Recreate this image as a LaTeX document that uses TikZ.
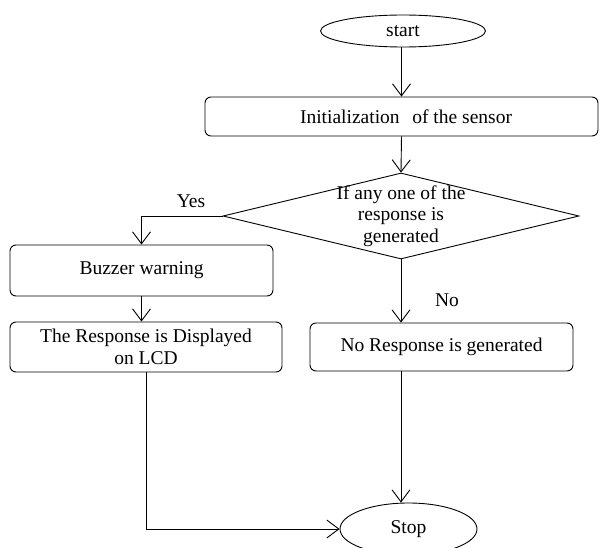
\documentclass[tikz,border=0pt]{standalone}
\usepackage{fontspec}
\setmainfont{Liberation Serif}
\usetikzlibrary{shapes.geometric,arrows.meta,calc}
\newcommand{\myfnt}{\fontsize{19.5}{21.5}\selectfont}
\begin{document}
\begin{tikzpicture}[x=1pt,y=-1pt,
  every node/.style={font=\myfnt, inner sep=0pt},
  box/.style={draw, rounded corners=6pt, line width=0.9pt, align=center},
  term/.style={draw, ellipse, line width=0.9pt},
  conn/.style={line width=0.9pt},
  arr/.style={conn, -{Straight Barb[length=12pt,width=18pt,line width=0.9pt]}}]
\clip (0,0) rectangle (606,548);
\fill[white] (0,0) rectangle (606,548);
\node[term, minimum width=165pt, minimum height=32pt] (start) at (403,31) {start};
\node[box, minimum width=393pt, minimum height=39pt] (init) at (401.5,116.5) {\hspace{9pt}Initialization\hspace{0.65em}of the sensor};
\node[draw, diamond, line width=0.9pt, minimum width=356pt, minimum height=86pt] (dec) at (401,216) {};
\node[align=center] (dectext) at (401,216) {If any one of the\\response is\\generated};
\node[box, minimum width=263pt, minimum height=51pt] (buzz) at (141.5,270.5) {Buzzer warning};
\node[box, minimum width=272pt, minimum height=50pt] (disp) at (146,347) {The Response is Displayed\\on LCD};
\node[box, minimum width=263pt, minimum height=48pt] (nores) at (441.5,347) {No Response is generated};
\node[term, minimum width=137pt, minimum height=52pt] (stop) at (408.5,529) {Stop};
\node (yes) at (191,201) {Yes};
\node (no) at (447,300) {No};
\draw[arr] (start.south -| init.north) -- (init.north);
\draw[arr] (init.south) -- (dec.north);
\draw[arr] (dec.west) -| (buzz.north);
\draw[arr] (buzz.south) -- (buzz.south |- disp.north);
\draw[arr] (dec.south) -- (dec.south |- nores.north);
\draw[arr] (dec.south |- nores.south) -- (dec.south |- stop.north);
\draw[arr] (disp.south) |- (stop.west);
\end{tikzpicture}
\end{document}
